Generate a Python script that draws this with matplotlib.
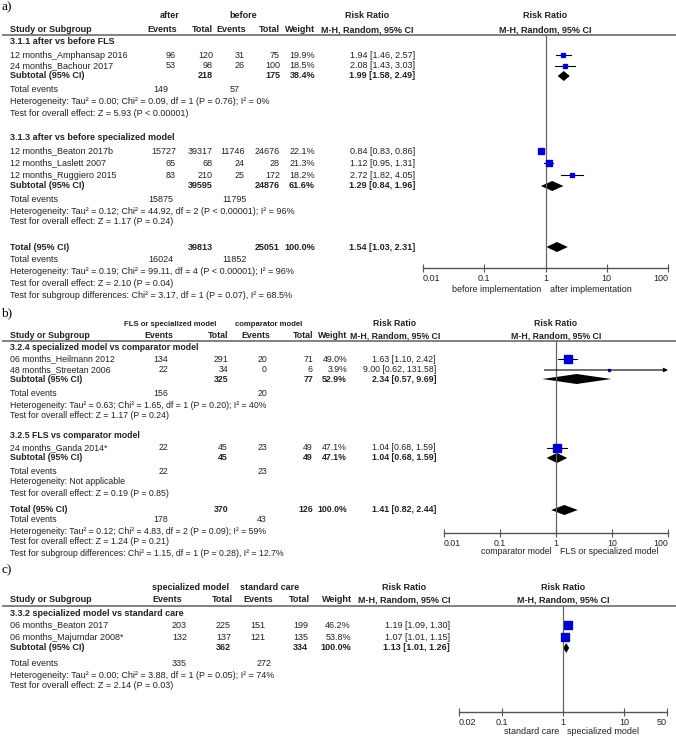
import math
import matplotlib
matplotlib.use("Agg")
import matplotlib.pyplot as plt
from matplotlib.patches import Polygon

plt.rcParams['font.family'] = ['Liberation Sans', 'DejaVu Sans']

# ---------------- data: panel a ----------------
a_groups = ["after", "before"]
a_study = ["12 months_Amphansap 2016", "24 months_Bachour 2017",
           "12 months_Beaton 2017b", "12 months_Laslett 2007", "12 months_Ruggiero 2015"]
a_ev1 = [96, 53, 15727, 65, 83]
a_tot1 = [120, 98, 39317, 68, 210]
a_ev2 = [31, 26, 11746, 24, 25]
a_tot2 = [75, 100, 24676, 28, 172]
a_weight = [19.9, 18.5, 22.1, 21.3, 18.2]
a_rr = [1.94, 2.08, 0.84, 1.12, 2.72]
a_lo = [1.46, 1.43, 0.83, 0.95, 1.82]
a_hi = [2.57, 3.03, 0.86, 1.31, 4.05]
a_sub_title = ["3.1.1 after vs before FLS", "3.1.3 after vs before specialized model"]
a_sub_ev1 = [149, 15875]
a_sub_ev2 = [57, 11795]
a_sub_tot1 = [218, 39595]
a_sub_tot2 = [175, 24876]
a_sub_w = [38.4, 61.6]
a_sub_rr = [1.99, 1.29]
a_sub_lo = [1.58, 0.84]
a_sub_hi = [2.49, 1.96]
a_sub_het = ["Heterogeneity: Tau\u00b2 = 0.00; Chi\u00b2 = 0.09, df = 1 (P = 0.76); I\u00b2 = 0%",
             "Heterogeneity: Tau\u00b2 = 0.12; Chi\u00b2 = 44.92, df = 2 (P < 0.00001); I\u00b2 = 96%"]
a_sub_z = ["Test for overall effect: Z = 5.93 (P < 0.00001)",
           "Test for overall effect: Z = 1.17 (P = 0.24)"]
a_total = [39813, 25051, 100.0, 1.54, 1.03, 2.31]
a_total_ev = [16024, 11852]
a_total_text = ["Heterogeneity: Tau\u00b2 = 0.19; Chi\u00b2 = 99.11, df = 4 (P < 0.00001); I\u00b2 = 96%",
                "Test for overall effect: Z = 2.10 (P = 0.04)",
                "Test for subgroup differences: Chi\u00b2 = 3.17, df = 1 (P = 0.07), I\u00b2 = 68.5%"]
a_ticks = [0.01, 0.1, 1, 10, 100]
a_ticklabels = ["0.01", "0.1", "1", "10", "100"]
a_favours = ["before implementation", "after implementation"]

# ---------------- data: panel b ----------------
b_groups = ["FLS or specialized model", "comparator model"]
b_study = ["06 months_Heilmann 2012", "48 months_Streetan 2006", "24 months_Ganda 2014*"]
b_ev1 = [134, 22, 22]
b_tot1 = [291, 34, 45]
b_ev2 = [20, 0, 23]
b_tot2 = [71, 6, 49]
b_weight = [49.0, 3.9, 47.1]
b_rr = [1.63, 9.00, 1.04]
b_lo = [1.10, 0.62, 0.68]
b_hi = [2.42, 131.58, 1.59]
b_sub_title = ["3.2.4 specialized model vs comparator model", "3.2.5 FLS vs comparator model"]
b_sub_ev1 = [156, 22]
b_sub_ev2 = [20, 23]
b_sub_tot1 = [325, 45]
b_sub_tot2 = [77, 49]
b_sub_w = [52.9, 47.1]
b_sub_rr = [2.34, 1.04]
b_sub_lo = [0.57, 0.68]
b_sub_hi = [9.69, 1.59]
b_sub_het = ["Heterogeneity: Tau\u00b2 = 0.63; Chi\u00b2 = 1.65, df = 1 (P = 0.20); I\u00b2 = 40%",
             "Heterogeneity: Not applicable"]
b_sub_z = ["Test for overall effect: Z = 1.17 (P = 0.24)",
           "Test for overall effect: Z = 0.19 (P = 0.85)"]
b_total = [370, 126, 100.0, 1.41, 0.82, 2.44]
b_total_ev = [178, 43]
b_total_text = ["Heterogeneity: Tau\u00b2 = 0.12; Chi\u00b2 = 4.83, df = 2 (P = 0.09); I\u00b2 = 59%",
                "Test for overall effect: Z = 1.24 (P = 0.21)",
                "Test for subgroup differences: Chi\u00b2 = 1.15, df = 1 (P = 0.28), I\u00b2 = 12.7%"]
b_ticks = [0.01, 0.1, 1, 10, 100]
b_ticklabels = ["0.01", "0.1", "1", "10", "100"]
b_favours = ["comparator model", "FLS or specialized model"]

# ---------------- data: panel c ----------------
c_groups = ["specialized model", "standard care"]
c_study = ["06 months_Beaton 2017", "06 months_Majumdar 2008*"]
c_ev1 = [203, 132]
c_tot1 = [225, 137]
c_ev2 = [151, 121]
c_tot2 = [199, 135]
c_weight = [46.2, 53.8]
c_rr = [1.19, 1.07]
c_lo = [1.09, 1.01]
c_hi = [1.30, 1.15]
c_sub_title = ["3.3.2 specialized model vs standard care"]
c_sub_ev1 = [335]
c_sub_ev2 = [272]
c_sub_tot1 = [362]
c_sub_tot2 = [334]
c_sub_w = [100.0]
c_sub_rr = [1.13]
c_sub_lo = [1.01]
c_sub_hi = [1.26]
c_sub_het = ["Heterogeneity: Tau\u00b2 = 0.00; Chi\u00b2 = 3.88, df = 1 (P = 0.05); I\u00b2 = 74%"]
c_sub_z = ["Test for overall effect: Z = 2.14 (P = 0.03)"]
c_ticks = [0.02, 0.1, 1, 10, 50]
c_ticklabels = ["0.02", "0.1", "1", "10", "50"]
c_favours = ["standard care", "specialized model"]

# ---------------- figure ----------------
W, H = 676, 736
fig = plt.figure(figsize=(W / 100, H / 100), dpi=100)
base = fig.add_axes([0, 0, 1, 1])
base.set_xlim(0, W)
base.set_ylim(H, 0)
base.axis('off')

INK = '#222222'
BLUE = '#0000cc'


def txt(x, y, s, fs, ha='left', bold=False):
    base.text(x, y, s, ha=ha, va='center', fontsize=fs, color=INK,
              fontweight='bold' if bold else 'normal')


def fmt_rr(r, l, h):
    return "%.2f [%.2f, %.2f]" % (r, l, h)


def forest_axes(x0, x1, ytop, ybot, ticks, labels, fs):
    ax = fig.add_axes([x0 / W, 1 - ybot / H, (x1 - x0) / W, (ybot - ytop) / H])
    ax.patch.set_alpha(0)
    ax.set_xscale('log')
    ax.set_xlim(ticks[0], ticks[-1])
    ax.set_ylim(ybot, ytop)
    for s in ['top', 'left', 'right']:
        ax.spines[s].set_visible(False)
    ax.spines['bottom'].set_color('#555555')
    ax.spines['bottom'].set_linewidth(1.0)
    ax.set_xticks(ticks)
    ax.set_xticklabels(labels)
    ax.minorticks_off()
    ax.set_yticks([])
    ax.tick_params(axis='x', direction='inout', length=6, width=0.8, colors='#555555',
                   labelcolor=INK, labelsize=fs, pad=1)
    tl = ax.get_xticklabels()
    tl[0].set_ha('left')
    tl[-1].set_ha('right')
    ax.axvline(1, color='#666666', lw=0.9)
    return ax


def diamond(ax, r, l, h, y, half=5):
    ax.add_patch(Polygon([(l, y), (r, y - half), (h, y), (r, y + half)],
                         closed=True, color='black', lw=0))


def draw_panel(d, lay, col):
    fs = col['fs']
    base.text(1, lay['label'], d['letter'], ha='left', va='center', fontsize=9.5,
              family='Liberation Serif', color='black')
    txt(col['grp'][0], lay['group'], d['groups'][0], col['gfs'], ha='center', bold=True)
    txt(col['grp'][1], lay['group'], d['groups'][1], col['gfs'], ha='center', bold=True)
    txt(col['study'], lay['header'], "Study or Subgroup", fs, bold=True)
    for x, s in zip(col['hdr'], ["Events", "Total", "Events", "Total", "Weight"]):
        txt(x, lay['header'], s, fs, ha='right', bold=True)
    txt(col['rrhdr'], lay['group'], "Risk Ratio", fs, ha='center', bold=True)
    txt(col['rrhdr'], lay['header'], "M-H, Random, 95% CI", fs, ha='center', bold=True)
    txt(col['fhdr'], lay['group'], "Risk Ratio", fs, ha='center', bold=True)
    txt(col['fhdr'], lay['header'], "M-H, Random, 95% CI", fs, ha='center', bold=True)
    base.plot([3, W], [lay['line'], lay['line']], color='#777777', lw=1.3)

    x0, x1 = col['fx']
    ax = forest_axes(x0, x1, lay['line'], lay['axis'], d['ticks'], d['ticklabels'], fs)
    xmin, xmax = d['ticks'][0], d['ticks'][-1]
    xone = x0 + (x1 - x0) * (-math.log10(xmin)) / (math.log10(xmax) - math.log10(xmin))
    txt(xone - 4, lay['bottom'], d['favours'][0], fs, ha='right')
    txt(xone + 4, lay['bottom'], d['favours'][1], fs, ha='left')

    # study rows
    for i, name in enumerate(d['study']):
        y = lay['rows'][i]
        txt(col['study'], y, name, fs)
        vals = [d['ev1'][i], d['tot1'][i], d['ev2'][i], d['tot2'][i]]
        for x, v in zip(col['num'], vals):
            txt(x, y, str(v), fs, ha='right')
        txt(col['num'][4], y, "%.1f%%" % d['weight'][i], fs, ha='right')
        txt(col['num'][5], y, fmt_rr(d['rr'][i], d['lo'][i], d['hi'][i]), fs, ha='right')
        hi = d['hi'][i]
        if hi > xmax:
            ax.annotate('', xy=(xmax, y), xytext=(d['lo'][i], y),
                        arrowprops=dict(arrowstyle='-|>', lw=0.8, color='black',
                                        mutation_scale=6, shrinkA=0, shrinkB=0),
                        annotation_clip=False)
        else:
            ax.plot([d['lo'][i], hi], [y, y], color='black', lw=0.8)
        side = 1.1 * d['weight'][i] ** 0.5
        ax.plot([d['rr'][i]], [y], marker='s', ms=side * 0.72, color=BLUE, mec=BLUE, lw=0)

    # subgroup blocks
    for g, title in enumerate(d['sub_title']):
        txt(col['study'], lay['titles'][g], title, fs, bold=True)
        y = lay['sub'][g]
        txt(col['study'], y, "Subtotal (95% CI)", fs, bold=True)
        txt(col['num'][1], y, str(d['sub_tot1'][g]), fs, ha='right', bold=True)
        txt(col['num'][3], y, str(d['sub_tot2'][g]), fs, ha='right', bold=True)
        txt(col['num'][4], y, "%.1f%%" % d['sub_w'][g], fs, ha='right', bold=True)
        txt(col['num'][5], y, fmt_rr(d['sub_rr'][g], d['sub_lo'][g], d['sub_hi'][g]),
            fs, ha='right', bold=True)
        diamond(ax, d['sub_rr'][g], d['sub_lo'][g], d['sub_hi'][g], y)
        txt(col['study'], lay['te'][g], "Total events", fs)
        txt(col['te'][0], lay['te'][g], str(d['sub_ev1'][g]), fs, ha=col['te_ha'])
        txt(col['te'][1], lay['te'][g], str(d['sub_ev2'][g]), fs, ha=col['te_ha'])
        txt(col['study'], lay['het'][g], d['sub_het'][g], fs)
        txt(col['study'], lay['z'][g], d['sub_z'][g], fs)

    # overall total
    if 'total' in d:
        t = d['total']
        y = lay['total']
        txt(col['study'], y, "Total (95% CI)", fs, bold=True)
        txt(col['num'][1], y, str(t[0]), fs, ha='right', bold=True)
        txt(col['num'][3], y, str(t[1]), fs, ha='right', bold=True)
        txt(col['num'][4], y, "%.1f%%" % t[2], fs, ha='right', bold=True)
        txt(col['num'][5], y, fmt_rr(t[3], t[4], t[5]), fs, ha='right', bold=True)
        diamond(ax, t[3], t[4], t[5], y)
        txt(col['study'], lay['tail'][0], "Total events", fs)
        txt(col['te'][0], lay['tail'][0], str(d['total_ev'][0]), fs, ha=col['te_ha'])
        txt(col['te'][1], lay['tail'][0], str(d['total_ev'][1]), fs, ha=col['te_ha'])
        for yy, s in zip(lay['tail'][1:], d['total_text']):
            txt(col['study'], yy, s, fs)


panel_a = dict(letter="a)", groups=a_groups, study=a_study, ev1=a_ev1, tot1=a_tot1,
               ev2=a_ev2, tot2=a_tot2, weight=a_weight, rr=a_rr, lo=a_lo, hi=a_hi,
               sub_title=a_sub_title, sub_ev1=a_sub_ev1, sub_ev2=a_sub_ev2,
               sub_tot1=a_sub_tot1, sub_tot2=a_sub_tot2, sub_w=a_sub_w, sub_rr=a_sub_rr,
               sub_lo=a_sub_lo, sub_hi=a_sub_hi, sub_het=a_sub_het, sub_z=a_sub_z,
               total=a_total, total_ev=a_total_ev, total_text=a_total_text,
               ticks=a_ticks, ticklabels=a_ticklabels, favours=a_favours)
panel_b = dict(letter="b)", groups=b_groups, study=b_study, ev1=b_ev1, tot1=b_tot1,
               ev2=b_ev2, tot2=b_tot2, weight=b_weight, rr=b_rr, lo=b_lo, hi=b_hi,
               sub_title=b_sub_title, sub_ev1=b_sub_ev1, sub_ev2=b_sub_ev2,
               sub_tot1=b_sub_tot1, sub_tot2=b_sub_tot2, sub_w=b_sub_w, sub_rr=b_sub_rr,
               sub_lo=b_sub_lo, sub_hi=b_sub_hi, sub_het=b_sub_het, sub_z=b_sub_z,
               total=b_total, total_ev=b_total_ev, total_text=b_total_text,
               ticks=b_ticks, ticklabels=b_ticklabels, favours=b_favours)
panel_c = dict(letter="c)", groups=c_groups, study=c_study, ev1=c_ev1, tot1=c_tot1,
               ev2=c_ev2, tot2=c_tot2, weight=c_weight, rr=c_rr, lo=c_lo, hi=c_hi,
               sub_title=c_sub_title, sub_ev1=c_sub_ev1, sub_ev2=c_sub_ev2,
               sub_tot1=c_sub_tot1, sub_tot2=c_sub_tot2, sub_w=c_sub_w, sub_rr=c_sub_rr,
               sub_lo=c_sub_lo, sub_hi=c_sub_hi, sub_het=c_sub_het, sub_z=c_sub_z,
               ticks=c_ticks, ticklabels=c_ticklabels, favours=c_favours)

# layout (pixel rows / columns)
lay_a = dict(label=7, group=16, header=30, line=35, titles=[42, 137],
             rows=[55, 66, 151, 163, 175], sub=[76, 186], te=[90, 200],
             het=[102, 211], z=[113, 222], total=247, tail=[260, 272, 283, 296],
             axis=268, bottom=289)
col_a = dict(fs=6.5, gfs=6.5, study=10, grp=[170, 243], hdr=[177, 213, 246, 280, 315],
             num=[176, 213, 245, 280, 315, 415], te=[161, 235], te_ha='center',
             rrhdr=367, fhdr=545, fx=[423, 668])

lay_b = dict(label=313, group=324, header=336, line=341, titles=[347, 436],
             rows=[359, 370, 448], sub=[379, 458], te=[393, 471],
             het=[405, 482], z=[416, 494], total=510, tail=[520, 531, 542, 554],
             axis=533, bottom=552)
col_b = dict(fs=6.3, gfs=5.6, study=10, grp=[170, 269], hdr=[173, 228, 270, 313, 347],
             num=[168, 228, 267, 313, 347, 436], te=[168, 267], te_ha='right',
             rrhdr=395, fhdr=556, fx=[444, 668])

lay_c = dict(label=570, group=587, header=600, line=606, titles=[614],
             rows=[625, 637], sub=[648], te=[663], het=[675], z=[686],
             axis=712, bottom=731)
col_c = dict(fs=6.5, gfs=6.5, study=10, grp=[190, 270], hdr=[182, 233, 273, 310, 352],
             num=[187, 231, 265, 308, 351, 450], te=[187, 272], te_ha='right',
             rrhdr=404, fhdr=563, fx=[459, 667])

draw_panel(panel_a, lay_a, col_a)
draw_panel(panel_b, lay_b, col_b)
draw_panel(panel_c, lay_c, col_c)

fig.savefig("out.png", dpi=100)
